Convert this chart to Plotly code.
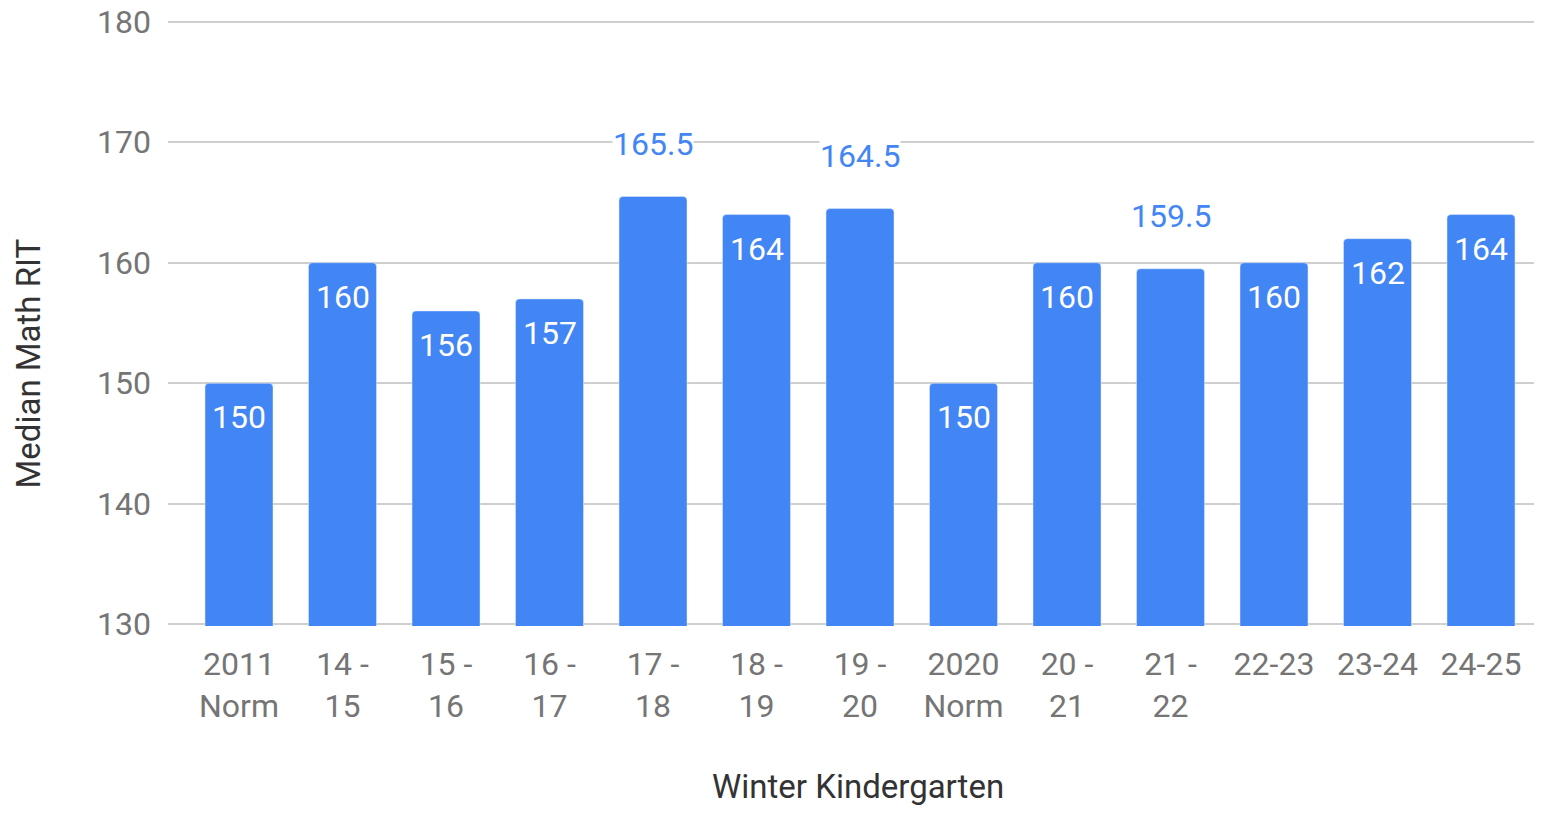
import plotly.graph_objects as go

categories = ["2011<br>Norm", "14 -<br>15", "15 -<br>16", "16 -<br>17", "17 -<br>18", "18 -<br>19",
              "19 -<br>20", "2020<br>Norm", "20 -<br>21", "21 -<br>22", "22-23", "23-24", "24-25"]
values = [150, 160, 156, 157, 165.5, 164, 164.5, 150, 160, 159.5, 160, 162, 164]
y_ticks = [130, 140, 150, 160, 170, 180]

BLUE = "#4285F4"
GREY = "#757575"
FONT = "Roboto, Arial, sans-serif"

fig = go.Figure()
fig.add_trace(go.Bar(
    x=categories, y=values, marker=dict(color=BLUE, cornerradius=4),
    hoverinfo="x+y",
))

annotations = []
for c, v in zip(categories, values):
    is_int = float(v).is_integer()
    label = str(int(v)) if is_int else str(v)
    if is_int:
        annotations.append(dict(x=c, y=v, xref="x", yref="y", text=label, showarrow=False,
                                yanchor="middle", yshift=-34,
                                font=dict(family=FONT, size=32, color="white")))
    else:
        annotations.append(dict(x=c, y=v, xref="x", yref="y", text=label, showarrow=False,
                                yanchor="middle", yshift=53, bgcolor="white", borderpad=0,
                                font=dict(family=FONT, size=32, color=BLUE)))

# plot area in figure coords: left 160, top 12, width 1366, height 606
annotations.append(dict(x=(20 - 160) / 1366, y=(618 - 355.5) / 606, xref="paper", yref="paper",
                        text="Median Math RIT", textangle=-90, showarrow=False,
                        xanchor="center", yanchor="middle",
                        font=dict(family=FONT, size=33, color="#333333")))
annotations.append(dict(x=(850 - 160) / 1366, y=(618 - 778) / 606, xref="paper", yref="paper",
                        text="Winter Kindergarten", showarrow=False,
                        xanchor="center", yanchor="middle",
                        font=dict(family=FONT, size=33, color="#333333")))

fig.update_layout(
    width=1526, height=797,
    margin=dict(l=160, r=0, t=12, b=179, autoexpand=False),
    paper_bgcolor="white", plot_bgcolor="white",
    bargap=0.343, showlegend=False,
    annotations=annotations,
    font=dict(family=FONT, color=GREY),
)
fig.update_xaxes(
    type="category", range=[-0.686, 12.512], automargin=False,
    tickfont=dict(family=FONT, size=32, color=GREY),
    showgrid=False, showline=False, ticks="", ticklabelstandoff=16,
    ticklabeloverflow="allow",
)
fig.update_yaxes(
    range=[129.85, 180.15], tickvals=y_ticks, automargin=False,
    tickfont=dict(family=FONT, size=32, color=GREY),
    showgrid=True, gridcolor="#cfcfcf", gridwidth=2,
    zeroline=False, showline=False, ticks="", ticklabelstandoff=16,
    ticklabeloverflow="allow",
)

fig.write_html("out.html")
